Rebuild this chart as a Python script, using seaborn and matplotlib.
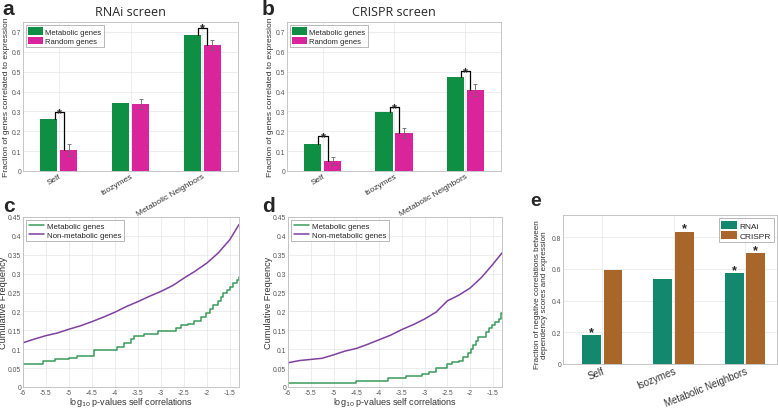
import numpy as np
import pandas as pd
import matplotlib
matplotlib.use("Agg")
import matplotlib.pyplot as plt
import seaborn as sns

# ---- data ----
groups = ["Self", "Isozymes", "Metabolic Neighbors"]

rnai_metabolic = [0.26, 0.34, 0.685]
rnai_random = [0.105, 0.335, 0.635]
rnai_random_err = [0.03, 0.025, 0.025]
rnai_bracket_top = [0.295, None, 0.722]

crispr_metabolic = [0.135, 0.295, 0.475]
crispr_random = [0.05, 0.19, 0.41]
crispr_random_err = [0.022, 0.025, 0.03]
crispr_bracket_top = [0.176, 0.322, 0.503]

e_rnai = [0.18, 0.535, 0.575]
e_crispr = [0.595, 0.835, 0.70]
e_rnai_star = [True, False, True]
e_crispr_star = [False, True, True]

c_nonmet_x = [-6, -5.75, -5.5, -5.25, -5, -4.75, -4.5, -4.25, -4, -3.75, -3.5,
              -3.25, -3, -2.75, -2.5, -2.25, -2, -1.75, -1.5, -1.3]
c_nonmet_y = [0.117, 0.127, 0.136, 0.143, 0.153, 0.162, 0.173, 0.185, 0.198, 0.213,
              0.226, 0.24, 0.253, 0.268, 0.288, 0.307, 0.328, 0.355, 0.39, 0.43]
c_met_x = [-6, -5.56, -5.3, -5.0, -4.83, -4.46, -3.95, -3.8, -3.65, -3.58, -3.36,
           -3.07, -2.67, -2.56, -2.4, -2.27, -2.12, -2.01, -1.93, -1.86, -1.75,
           -1.7, -1.64, -1.56, -1.5, -1.42, -1.35, -1.3]
c_met_y = [0.062, 0.068, 0.073, 0.077, 0.083, 0.097, 0.106, 0.116, 0.126, 0.135,
           0.141, 0.149, 0.157, 0.163, 0.168, 0.174, 0.184, 0.197, 0.207, 0.216,
           0.228, 0.238, 0.248, 0.258, 0.266, 0.274, 0.283, 0.292]

d_nonmet_x = c_nonmet_x
d_nonmet_y = [0.064, 0.07, 0.073, 0.076, 0.085, 0.095, 0.102, 0.113, 0.125, 0.137,
              0.152, 0.165, 0.18, 0.198, 0.228, 0.243, 0.262, 0.29, 0.325, 0.355]
d_met_x = [-6, -4.5, -3.8, -3.4, -3.05, -2.9, -2.75, -2.5, -2.4, -2.25, -2.15,
           -2.05, -1.98, -1.93, -1.88, -1.83, -1.65, -1.58, -1.52, -1.45, -1.36,
           -1.32, -1.3]
d_met_y = [0.011, 0.015, 0.025, 0.03, 0.035, 0.04, 0.05, 0.06, 0.065, 0.07, 0.08,
           0.09, 0.1, 0.112, 0.122, 0.133, 0.145, 0.155, 0.165, 0.172, 0.18,
           0.195, 0.197]

GREEN = "#0f8f43"
MAGENTA = "#d9249b"
TEAL = "#14886f"
BROWN = "#a9662b"
LGREEN = "#3a9a5b"
PURPLE = "#8040a0"
GRID = "#e6e6e6"
SPINE = "#bdbdbd"
TICKC = "#555555"
LABC = "#333333"

sns.set_style("white")
plt.rcParams["font.family"] = ["Liberation Sans", "DejaVu Sans"]

fig = plt.figure(figsize=(7.78, 4.10), dpi=100)
W, H = 778, 410


def add_ax(x0, y0, x1, y1):
    return fig.add_axes([x0 / W, 1 - y1 / H, (x1 - x0) / W, (y1 - y0) / H])


def style_ax(ax):
    for s in ax.spines.values():
        s.set_visible(True)
        s.set_color(SPINE)
        s.set_linewidth(0.6)
    ax.tick_params(direction="in", length=2, width=0.5, labelsize=4.9, pad=1.2,
                   colors=TICKC, top=False, right=False)
    ax.grid(True, color=GRID, linewidth=0.5)
    ax.set_axisbelow(True)


def small_legend(ax, loc, fs, patches=True):
    kw = dict(handlelength=1.9, handleheight=1.1) if patches else dict(handlelength=2.0)
    leg = ax.legend(loc=loc, fontsize=fs, frameon=True, borderpad=0.3,
                    labelspacing=0.15, handletextpad=0.3, fancybox=False,
                    borderaxespad=0.4, **kw)
    leg.get_frame().set_edgecolor("#999999")
    leg.get_frame().set_linewidth(0.6)


def bar_panel(ax, met, rnd, err, tops, title, ylabel):
    df = pd.DataFrame({
        "group": groups * 2,
        "value": met + rnd,
        "kind": ["Metabolic genes"] * 3 + ["Random genes"] * 3,
    })
    sns.barplot(data=df, x="group", y="value", hue="kind", saturation=1,
                palette=[GREEN, MAGENTA], width=0.56, gap=0.14,
                edgecolor="none", ax=ax)
    bars_m = ax.containers[0]
    bars_r = ax.containers[1]
    xr = [b.get_x() + b.get_width() / 2 for b in bars_r]
    xm = [b.get_x() + b.get_width() / 2 for b in bars_m]
    ax.errorbar(xr, rnd, yerr=err, fmt="none", ecolor="#666666",
                elinewidth=0.6, capsize=1.5, capthick=0.6)
    for i, t in enumerate(tops):
        if t is None:
            continue
        xl = xm[i] + 0.08
        xrr = xr[i] - 0.07
        ax.plot([xl, xl, xrr, xrr], [met[i], t, t, rnd[i]], color="black", lw=0.9)
        ax.text((xl + xrr) / 2, t - 0.004, "*", ha="center", va="center",
                fontsize=9, fontweight="bold")
    ax.set_xlim(-0.5, 2.5)
    ax.set_ylim(0, 0.75)
    ax.set_yticks(np.arange(0, 0.71, 0.1))
    ax.set_yticklabels(["0"] + [f"{v:.1f}" for v in np.arange(0.1, 0.71, 0.1)])
    style_ax(ax)
    ax.set_xticks(range(3))
    ax.set_xticklabels(groups, rotation=30, ha="right", rotation_mode="anchor",
                       fontsize=6, color=LABC)
    ax.set_xlabel("")
    ax.set_ylabel(ylabel, fontsize=6.1, color=LABC)
    ax.yaxis.set_label_coords(-0.062, 0.5)
    ax.set_title(title, fontsize=9, family=["Open Sans", "DejaVu Sans"], pad=5)
    small_legend(ax, "upper left", 5.5)


ax_a = add_ax(23, 23, 238, 172)
bar_panel(ax_a, rnai_metabolic, rnai_random, rnai_random_err, rnai_bracket_top,
          "RNAi screen", "Fraction of genes correlated to expression")
ax_b = add_ax(287, 23, 501, 172)
bar_panel(ax_b, crispr_metabolic, crispr_random, crispr_random_err, crispr_bracket_top,
          "CRISPR screen", "Fraction of genes correlated to expression")


def line_panel(ax, mx, my, nx, ny):
    sns.lineplot(x=mx, y=my, color=LGREEN, lw=1.1, drawstyle="steps-post",
                 label="Metabolic genes", ax=ax)
    sns.lineplot(x=nx, y=ny, color=PURPLE, lw=1.1, label="Non-metabolic genes", ax=ax)
    ax.set_xlim(-6, -1.3)
    ax.set_ylim(0, 0.45)
    ax.set_xticks(np.arange(-6, -1.4, 0.5))
    ax.set_xticklabels(["-6", "-5.5", "-5", "-4.5", "-4", "-3.5", "-3", "-2.5", "-2", "-1.5"])
    ax.set_yticks(np.arange(0, 0.451, 0.05))
    ax.set_yticklabels(["0", "0.05", "0.1", "0.15", "0.2", "0.25", "0.3", "0.35", "0.4", "0.45"])
    style_ax(ax)
    ax.set_xlabel(r"log$_{10}$ p-values self correlations", fontsize=6.5, color=LABC)
    ax.xaxis.set_label_coords(0.5, -0.045)
    ax.set_ylabel("Cumulative Frequency", fontsize=6.6, color=LABC)
    ax.yaxis.set_label_coords(-0.068, 0.5)
    small_legend(ax, "upper left", 5.7, patches=False)


ax_c = add_ax(23, 218, 239, 388)
line_panel(ax_c, c_met_x, c_met_y, c_nonmet_x, c_nonmet_y)
ax_d = add_ax(288, 218, 502, 388)
line_panel(ax_d, d_met_x, d_met_y, d_nonmet_x, d_nonmet_y)

# panel e
ax_e = add_ax(563, 216, 777, 365)
df_e = pd.DataFrame({
    "group": groups * 2,
    "value": e_rnai + e_crispr,
    "screen": ["RNAi"] * 3 + ["CRISPR"] * 3,
})
sns.barplot(data=df_e, x="group", y="value", hue="screen", palette=[TEAL, BROWN],
            saturation=1, width=0.6, gap=0.12, edgecolor="none", ax=ax_e)
for cont, stars in zip(ax_e.containers, [e_rnai_star, e_crispr_star]):
    for b, s in zip(cont, stars):
        if s:
            ax_e.text(b.get_x() + b.get_width() / 2, b.get_height() + 0.02, "*",
                      ha="center", va="center", fontsize=9, fontweight="bold")
ax_e.set_xlim(-0.55, 2.45)
ax_e.set_ylim(0, 0.94)
ax_e.set_yticks([0, 0.2, 0.4, 0.6, 0.8])
ax_e.set_yticklabels(["0", "0.2", "0.4", "0.6", "0.8"])
style_ax(ax_e)
ax_e.set_xticks(range(3))
ax_e.set_xticklabels(groups, rotation=22, ha="right", rotation_mode="anchor",
                     fontsize=7, color=LABC)
ax_e.set_xlabel("")
ax_e.set_ylabel("Fraction of negative correlations between\ndependency scores and expression",
                fontsize=5.9, color=LABC, linespacing=1.15)
ax_e.yaxis.set_label_coords(-0.068, 0.47)
small_legend(ax_e, "upper right", 6)

# panel letters
for lab, x, y, fs in [("a", 2, 0, 15), ("b", 262, 0, 15), ("c", 3, 197, 15),
                      ("d", 262, 197, 15), ("e", 530, 193, 14)]:
    fig.text(x / W, 1 - y / H, lab, fontsize=fs, fontweight="bold", va="top", ha="left",
             family=["Liberation Sans", "DejaVu Sans"])

fig.savefig("out.png", dpi=100)
